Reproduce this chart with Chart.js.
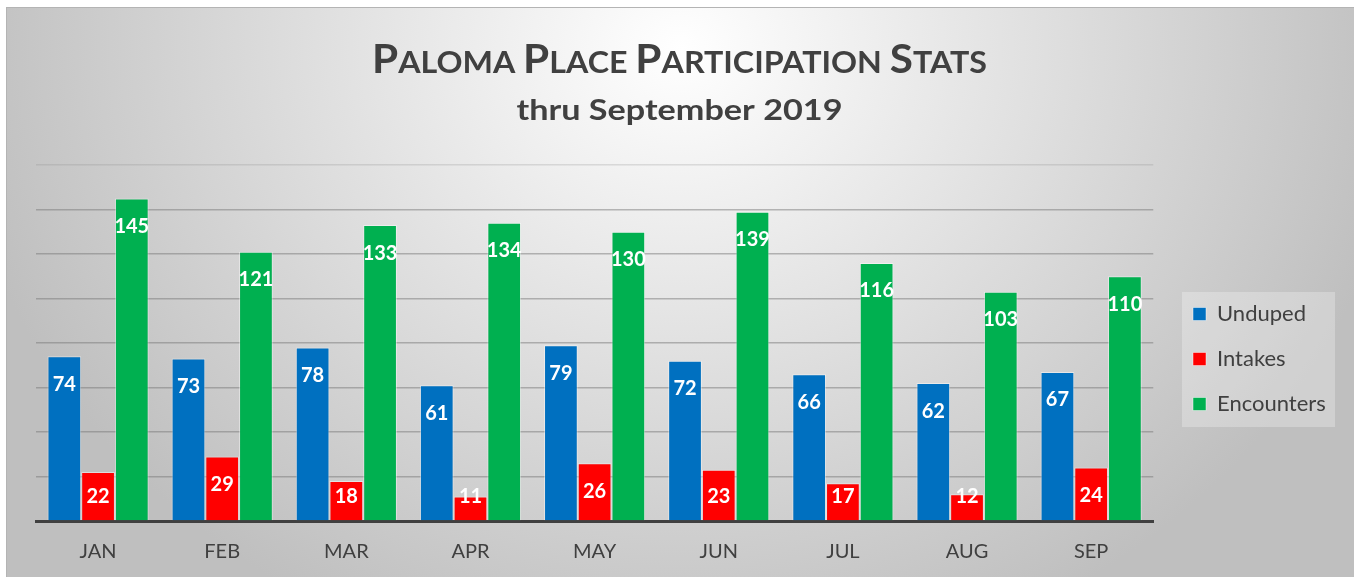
<!DOCTYPE html>
<html>
<head>
<meta charset="utf-8">
<script src="https://cdn.jsdelivr.net/npm/chart.js@4.4.1/dist/chart.umd.min.js"></script>
<style>
  html, body { margin:0; padding:0; background:#ffffff; }
  #bg { position:absolute; left:6px; top:7px; width:1348px; height:570px; box-sizing:border-box;
        border-top:1px solid #b4b4b4; border-left:1px solid #b4b4b4;
        background: radial-gradient(ellipse 730px 640px at 674px 40px, #ffffff 0%, #bfbfbf 100%); }
  #c { position:absolute; left:6px; top:7px; }
</style>
</head>
<body>
<div id="bg"></div>
<canvas id="c" width="1348" height="570"></canvas>
<script>
// ---- data ----
const categories = ['JAN','FEB','MAR','APR','MAY','JUN','JUL','AUG','SEP'];
const unduped    = [74, 73, 78, 61, 79, 72, 66, 62, 67];
const intakes    = [22, 29, 18, 11, 26, 23, 17, 12, 24];
const encounters = [145, 121, 133, 134, 130, 139, 116, 103, 110];
const seriesNames = ['Unduped', 'Intakes', 'Encounters'];
const yMin = 0, yMax = 160, yStep = 20;
const titleWords = ['Paloma', 'Place', 'Participation', 'Stats'];
const subtitleText = 'thru September 2019';

const FONT = 'Lato, "Open Sans", sans-serif';
const TEXT = '#404040';

// Title (small caps) + subtitle
const titlePlugin = {
  id: 'smallCapsTitle',
  afterDraw(chart) {
    const ctx = chart.ctx;
    const cx = (chart.width) / 2 - 0.5;
    const B = 40, S = 30.5;
    ctx.save();
    ctx.fillStyle = TEXT;
    ctx.textBaseline = 'alphabetic';
    ctx.textAlign = 'left';
    const parts = [];
    titleWords.forEach((w, i) => {
      parts.push({t: w[0].toUpperCase(), f: 'bold ' + B + 'px ' + FONT});
      parts.push({t: w.slice(1).toUpperCase() + (i < titleWords.length - 1 ? ' ' : ''), f: 'bold ' + S + 'px ' + FONT});
    });
    let W = 0;
    parts.forEach(p => { ctx.font = p.f; p.w = ctx.measureText(p.t).width; W += p.w; });
    const targetW = 615;
    const sx = targetW / W;
    ctx.translate(cx - targetW / 2, 65.7);
    ctx.scale(sx, 1);
    let x = 0;
    parts.forEach(p => { ctx.font = p.f; ctx.fillText(p.t, x, 0); x += p.w; });
    ctx.restore();

    ctx.save();
    ctx.fillStyle = TEXT;
    ctx.font = 'bold 29px ' + FONT;
    ctx.textBaseline = 'alphabetic';
    ctx.textAlign = 'left';
    const sw = ctx.measureText(subtitleText).width;
    const tw = 326;
    ctx.translate(cx - tw / 2, 113);
    ctx.scale(tw / sw, 1);
    ctx.fillText(subtitleText, 0, 0);
    ctx.restore();
  }
};

// Legend placement and background panel
const legendPlugin = {
  id: 'legendPanel',
  afterLayout(chart) {
    const L = chart.legend;
    if (!L) return;
    const pad = L.options.labels.padding;
    const dx = 1187 - (L.left + pad);
    const dy = 296 - (L.top + pad);
    L.left += dx; L.right += dx;
    L.top += dy; L.bottom += dy;
  },
  beforeDraw(chart) {
    const L = chart.legend;
    if (!L) return;
    const pad = L.options.labels.padding;
    const bx = L.left + pad, by = L.top + pad;
    const ctx = chart.ctx;
    ctx.save();
    ctx.fillStyle = 'rgba(255,255,255,0.27)';
    ctx.fillRect(bx - 11, by - 11, 153, 135);
    ctx.restore();
  }
};

// Data labels
const labelPlugin = {
  id: 'barLabels',
  afterDatasetsDraw(chart) {
    const ctx = chart.ctx;
    ctx.save();
    ctx.fillStyle = '#ffffff';
    ctx.font = 'bold 20px ' + FONT;
    ctx.textAlign = 'center';
    ctx.textBaseline = 'middle';
    chart.data.datasets.forEach((ds, di) => {
      const meta = chart.getDatasetMeta(di);
      meta.data.forEach((el, i) => {
        const y = Math.min(el.y + 27, el.base - 25);
        ctx.fillText(String(ds.data[i]), el.x, y + 1);
      });
    });
    ctx.restore();
  }
};

const border = 'rgba(255,255,255,0.45)';
new Chart(document.getElementById('c'), {
  type: 'bar',
  data: {
    labels: categories,
    datasets: [
      { label: seriesNames[0], data: unduped,    backgroundColor: '#0070C0', borderColor: border, borderWidth: 1 },
      { label: seriesNames[1], data: intakes,    backgroundColor: '#FF0000', borderColor: border, borderWidth: 1 },
      { label: seriesNames[2], data: encounters, backgroundColor: '#00B050', borderColor: border, borderWidth: 1 }
    ]
  },
  options: {
    responsive: false,
    animation: false,
    devicePixelRatio: 1,
    layout: { padding: { top: 158, left: 30, right: 35, bottom: -6 } },
    datasets: { bar: { categoryPercentage: 0.815, barPercentage: 1.0 } },
    plugins: {
      title: { display: false },
      tooltip: { enabled: false },
      legend: {
        position: 'right',
        align: 'start',
        labels: {
          boxWidth: 13, boxHeight: 13, padding: 23,
          color: TEXT,
          font: { family: FONT, size: 22 }
        }
      }
    },
    scales: {
      x: {
        z: 1,
        grid: { display: false, drawTicks: false },
        border: { display: true, color: '#404040', width: 3 },
        ticks: { color: TEXT, font: { family: FONT, size: 20 }, padding: 19 }
      },
      y: {
        min: yMin, max: yMax,
        ticks: { display: false, stepSize: yStep },
        border: { display: false },
        grid: {
          drawTicks: false,
          lineWidth: 1.5,
          color: (c) => c.tick && c.tick.value === yMax ? 'rgba(140,140,140,0.25)' : (c.tick && c.tick.value === yMin ? 'rgba(0,0,0,0)' : 'rgba(120,120,120,0.5)')
        }
      }
    }
  },
  plugins: [legendPlugin, titlePlugin, labelPlugin]
});
</script>
</body>
</html>
